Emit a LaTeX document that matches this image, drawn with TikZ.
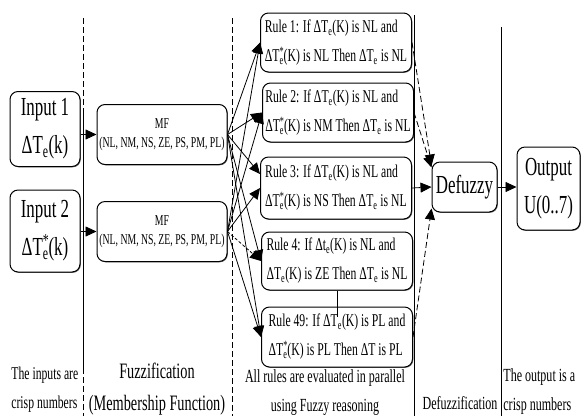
\documentclass[tikz,border=0pt]{standalone}
\usepackage{fontspec}
\setmainfont{Liberation Serif}[FakeStretch=0.65]
\usetikzlibrary{arrows.meta,shadows}
\newcommand{\dTe}{ΔT\textsubscript{e}}
\newcommand{\dts}{Δt\textsubscript{e}}
\newcommand{\dTs}{ΔT\rlap{\textsuperscript{*}}\textsubscript{e}}
\begin{document}
\begin{tikzpicture}[x=1pt,y=-1pt,line width=0.8pt,>={Triangle[length=11pt,width=10pt]},
	box/.style={draw,fill=white,rounded corners=8pt,inner sep=0pt,line width=1pt,drop shadow={shadow xshift=0.8pt,shadow yshift=-0.8pt,opacity=0.6,fill=black}},
	big/.style={font=\fontsize{26}{38}\selectfont,align=center},
	rulebox/.style={box,font=\fontsize{18}{29}\selectfont,align=left,minimum width=151pt,minimum height=59pt},
	mfbox/.style={box,font=\fontsize{15}{19}\selectfont,align=center,minimum width=130pt,minimum height=60pt},
	lab/.style={font=\fontsize{18.5}{29}\selectfont,inner sep=0pt},
	dsh/.style={dash pattern=on 6pt off 3pt}]
	\useasboundingbox (0,0) rectangle (585,416);
	% stage borders
	\draw[dsh] (83,18)--(83,110);
	\draw (83,110)--(83,368);
	\draw[dsh] (83,368)--(83,416);
	\draw[dsh] (232,18)--(232,416);
	\draw (414,15)--(414,416);
	\draw (501,27)--(501,416);
	% inputs and fuzzification
	\node[box,big,minimum width=70pt,minimum height=75pt] (in1) at (45,129) {Input 1\\ \dTe(k)};
	\node[box,big,minimum width=70pt,minimum height=82pt] (in2) at (45,231) {Input 2\\ \dTs(k)};
	\node[mfbox] (mf1) at (162,134.5) {MF\\(NL, NM, NS, ZE, PS, PM, PL)};
	\node[mfbox] (mf2) at (162,231.5) {MF\\(NL, NM, NS, ZE, PS, PM, PL)};
	% rules
	\node[rulebox] (r1) at (336,42.5) {Rule 1: If \dTe(K) is NL and\\ \dTs(K) is NL Then \dTe\ is NL};
	\node[rulebox] (r2) at (338,112.5) {Rule 2: If \dTe(K) is NL and\\ \dTs(K) is NM Then \dTe\ is NL};
	\node[rulebox,minimum height=62pt] (r3) at (336,188) {Rule 3: If \dTe(K) is NL and\\ \dTs(K) is NS Then \dTe\ is NL};
	\node[rulebox,minimum height=58pt] (r4) at (337,261) {Rule 4: If \dts(K) is NL and\\ \dTe(K) is ZE Then \dTe\ is NL};
	\node[rulebox,minimum height=60pt] (r49) at (337,337) {Rule 49: If \dTe(K) is PL and\\ \dTs(K) is PL Then ΔT is PL};
	% defuzzification and output
	\node[box,big,minimum width=65pt,minimum height=50pt] (defz) at (464.5,187) {Defuzzy};
	\node[box,big,minimum width=63pt,minimum height=83pt] (out) at (548.5,188.5) {Output\\U(0..7)};
	% connections
	\draw[->] (in1.east |- mf1.west)--(mf1.west);
	\draw[->] (in2.east |- mf2.west)--(mf2.west);
	\foreach \r in {r1,r2,r4,r49}
		\draw[->] (mf1.east)--(\r.west);
	\draw[->] (mf1.east)--([yshift=14pt]r3.west);
	\foreach \r in {r1,r2,r3,r49}
		\draw[->] (mf2.east)--(\r.west);
	\draw[->,densely dashed] (mf2.east)--(r4.west);
	\draw (r4.south)--([yshift=-10pt]r49.north);
	\draw[->,dsh] (r1.east)--([yshift=-4pt]defz.north west);
	\draw[->,dsh] (r2.east)--([yshift=-6pt]defz.north west);
	\draw[->] (r3.east)--(defz.west);
	\draw[->,dsh] (r49.east)--([yshift=4pt]defz.south west);
	\draw[->] (defz.east)--(defz.east -| out.west);
	% stage captions
	\node[lab,anchor=west,align=left,font=\fontsize{18}{29}\selectfont] (tin) at (11,390) {The inputs are\\crisp numbers};
	\node[lab,align=center,font=\fontsize{22}{32}\selectfont] (tfz) at (157,389) {Fuzzification\\(Membership Function)};
	\node[lab,align=center] (tru) at (325,393) {All rules are evaluated in parallel\\using Fuzzy reasoning};
	\node[lab] (tdf) at (460,403) {Defuzzification};
	\node[lab,anchor=west,align=left] (tout) at (503,392) {The output is a\\crisp numbers};
\end{tikzpicture}
\end{document}
